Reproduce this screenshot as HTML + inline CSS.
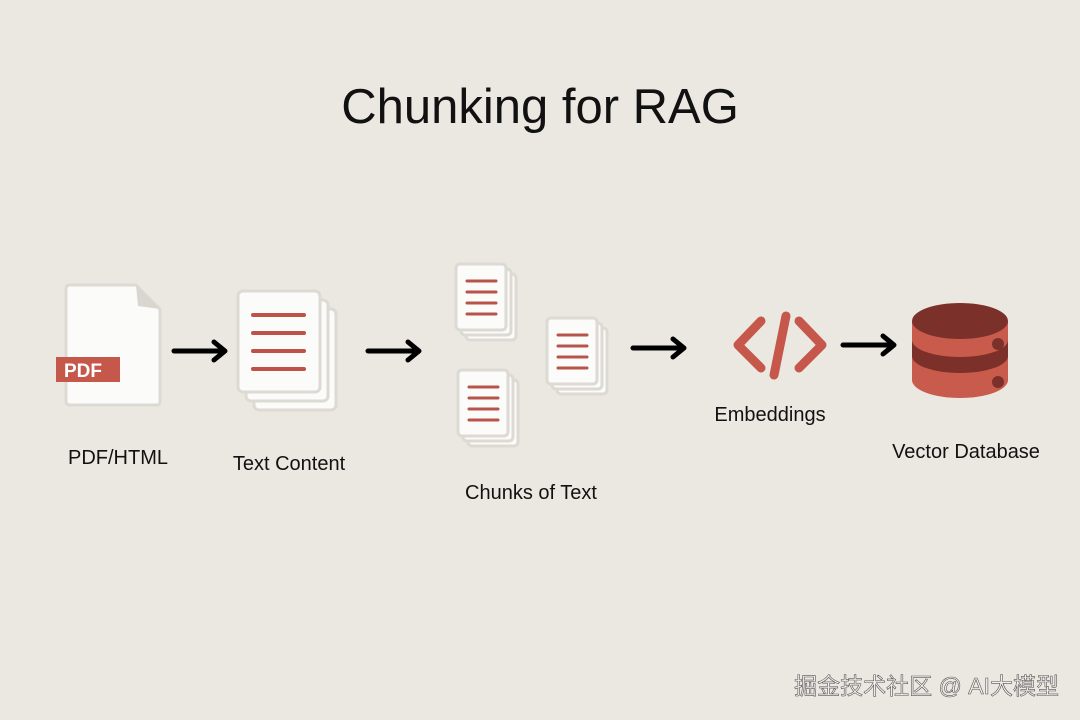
<!DOCTYPE html>
<html><head><meta charset="utf-8"><style>
html,body{margin:0;padding:0;background:#ebe8e1;}
svg{display:block;}
text{font-family:"Liberation Sans","Noto Sans CJK SC",sans-serif;fill:#111;}
</style></head><body>
<svg width="1080" height="720" viewBox="0 0 1080 720" xmlns="http://www.w3.org/2000/svg">
<rect width="1080" height="720" fill="#ebe8e1"/>
<text x="540" y="123" font-size="49" text-anchor="middle">Chunking for RAG</text>

<!-- PDF -->
<path d="M70 285 H136 L160 309 V402 Q160 405 157 405 H70 Q66 405 66 401 V289 Q66 285 70 285Z" fill="#fbfbfa" stroke="#dcdad3" stroke-width="3"/>
<path d="M136 285 L138 306 L160 309Z" fill="#d8d6cf"/>
<rect x="56" y="357" width="64" height="25" fill="#c5574b"/>
<text x="64" y="377" font-size="19" font-weight="bold" style="fill:#fff">PDF</text>
<text x="118" y="464" font-size="20" text-anchor="middle">PDF/HTML</text>

<!-- arrows -->
<g stroke="#000" stroke-width="5" fill="none" stroke-linecap="round" stroke-linejoin="round">
<path d="M174 351 H224 M214 342 L225 351 L214 360"/>
<path d="M368 351 H418 M408 342 L419 351 L408 360"/>
<path d="M633 348 H683 M673 339 L684 348 L673 357"/>
<path d="M843 345 H893 M883 336 L894 345 L883 354"/>
</g>

<!-- Text content stack -->
<g fill="#fbfbfa" stroke="#dcdad3" stroke-width="3">
<rect x="254" y="309" width="82" height="101" rx="5"/>
<rect x="246" y="300" width="82" height="101" rx="5"/>
<rect x="238" y="291" width="82" height="101" rx="5"/>
</g>
<g stroke="#bf5248" stroke-width="4" stroke-linecap="round">
<path d="M253 315 H304 M253 333 H304 M253 351 H304 M253 369 H304"/>
</g>
<text x="289" y="470" font-size="20" text-anchor="middle">Text Content</text>

<!-- Chunks -->
<g id="stk">
<g fill="#fbfbfa" stroke="#dcdad3" stroke-width="3">
<rect x="466" y="274" width="50" height="66" rx="4"/>
<rect x="461" y="269" width="50" height="66" rx="4"/>
<rect x="456" y="264" width="50" height="66" rx="4"/>
</g>
<g stroke="#b8544a" stroke-width="3" stroke-linecap="round">
<path d="M467 281 H496 M467 292 H496 M467 303 H496 M467 314 H496"/>
</g>
</g>
<use href="#stk" x="91" y="54"/>
<use href="#stk" x="2" y="106"/>
<text x="531" y="499" font-size="20" text-anchor="middle">Chunks of Text</text>

<!-- Code -->
<g stroke="#c5574b" stroke-width="9" fill="none" stroke-linecap="round" stroke-linejoin="round">
<path d="M761 321 L738 345 L761 368"/>
<path d="M786 316 L774 375"/>
<path d="M799 321 L822 345 L799 368"/>
</g>
<text x="770" y="421" font-size="20" text-anchor="middle">Embeddings</text>

<!-- DB -->
<path d="M912 321 V380 A48 18 0 0 0 1008 380 V321Z" fill="#c95b4c"/>
<path d="M912 340 A48 17 0 0 0 1008 340 V356 A48 17 0 0 1 912 356Z" fill="#7b3129"/>
<ellipse cx="960" cy="321" rx="48" ry="18" fill="#7b3129"/>
<circle cx="998" cy="344" r="6" fill="#7b3129"/>
<circle cx="998" cy="382" r="6" fill="#7b3129"/>
<text x="966" y="458" font-size="20" text-anchor="middle">Vector Database</text>

<text x="1059" y="694" font-size="23" text-anchor="end" style="fill:#f4f2ee;stroke:#555;stroke-width:0.6">掘金技术社区 @ AI大模型</text>
</svg>
</body></html>
